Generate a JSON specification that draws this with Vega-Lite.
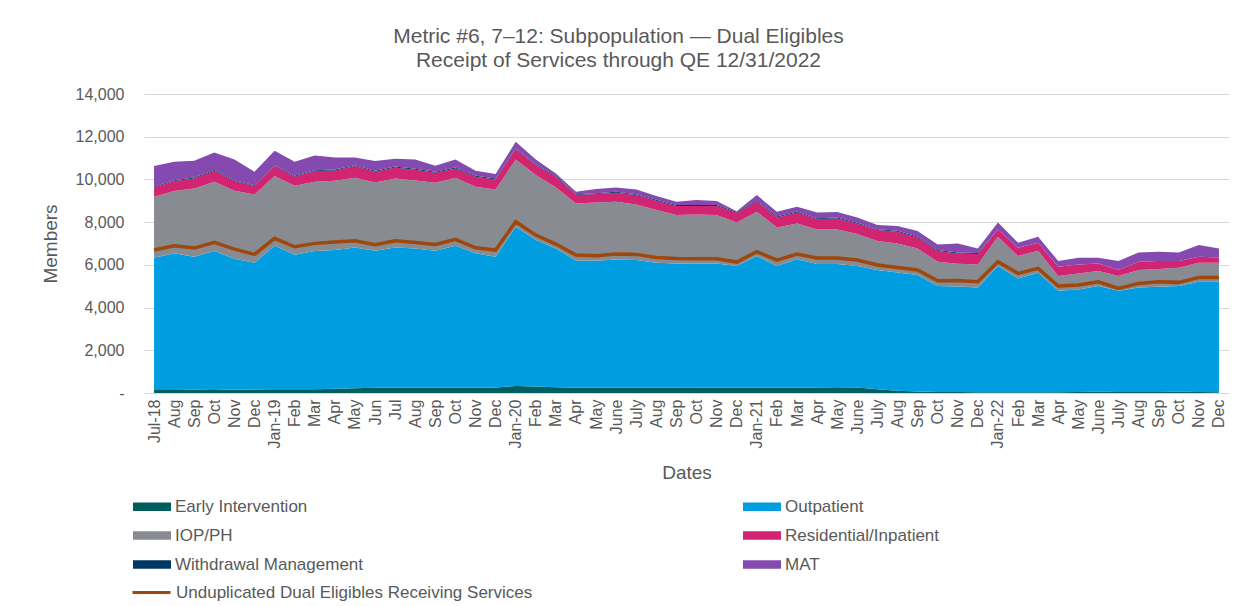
{
  "$schema": "https://vega.github.io/schema/vega-lite/v6.json",
  "width": 1085,
  "height": 299,
  "autosize": "none",
  "padding": {"left": 144, "top": 94, "right": 22, "bottom": 213},
  "background": "white",
  "title": {
    "text": ["Metric #6, 7–12: Subpopulation — Dual Eligibles", "Receipt of Services through QE 12/31/2022"],
    "anchor": "middle",
    "dx": -68,
    "offset": 15,
    "fontSize": 21,
    "lineHeight": 24,
    "font": "Liberation Sans",
    "fontWeight": "normal",
    "color": "#595959"
  },
  "config": {
    "view": {"stroke": null},
    "font": "Liberation Sans",
    "axis": {
      "labelFont": "Liberation Sans",
      "titleFont": "Liberation Sans",
      "labelColor": "#595959",
      "titleColor": "#595959",
      "labelFontSize": 16,
      "titleFontSize": 19,
      "titleFontWeight": "normal",
      "ticks": false
    },
    "legend": {
      "labelFont": "Liberation Sans",
      "labelFontSize": 17,
      "labelColor": "#595959",
      "labelLimit": 600,
      "padding": 0
    }
  },
  "datasets": {
    "seriesInfo": [
      {"series": "Early Intervention", "rank": 1},
      {"series": "Outpatient", "rank": 2},
      {"series": "IOP/PH", "rank": 3},
      {"series": "Residential/Inpatient", "rank": 4},
      {"series": "Withdrawal Management", "rank": 5},
      {"series": "MAT", "rank": 6}
    ],
    "areas": [
      {"date":"2018-07-15","series":"Early Intervention","members":180},{"date":"2018-07-15","series":"Outpatient","members":6154},{"date":"2018-07-15","series":"IOP/PH","members":2854},{"date":"2018-07-15","series":"Residential/Inpatient","members":437},{"date":"2018-07-15","series":"Withdrawal Management","members":45},{"date":"2018-07-15","series":"MAT","members":954},
      {"date":"2018-08-15","series":"Early Intervention","members":180},{"date":"2018-08-15","series":"Outpatient","members":6358},{"date":"2018-08-15","series":"IOP/PH","members":2916},{"date":"2018-08-15","series":"Residential/Inpatient","members":468},{"date":"2018-08-15","series":"Withdrawal Management","members":45},{"date":"2018-08-15","series":"MAT","members":859},
      {"date":"2018-09-15","series":"Early Intervention","members":160},{"date":"2018-09-15","series":"Outpatient","members":6221},{"date":"2018-09-15","series":"IOP/PH","members":3198},{"date":"2018-09-15","series":"Residential/Inpatient","members":469},{"date":"2018-09-15","series":"Withdrawal Management","members":45},{"date":"2018-09-15","series":"MAT","members":779},
      {"date":"2018-10-15","series":"Early Intervention","members":170},{"date":"2018-10-15","series":"Outpatient","members":6476},{"date":"2018-10-15","series":"IOP/PH","members":3244},{"date":"2018-10-15","series":"Residential/Inpatient","members":515},{"date":"2018-10-15","series":"Withdrawal Management","members":45},{"date":"2018-10-15","series":"MAT","members":815},
      {"date":"2018-11-15","series":"Early Intervention","members":150},{"date":"2018-11-15","series":"Outpatient","members":6137},{"date":"2018-11-15","series":"IOP/PH","members":3182},{"date":"2018-11-15","series":"Residential/Inpatient","members":453},{"date":"2018-11-15","series":"Withdrawal Management","members":45},{"date":"2018-11-15","series":"MAT","members":970},
      {"date":"2018-12-15","series":"Early Intervention","members":160},{"date":"2018-12-15","series":"Outpatient","members":5940},{"date":"2018-12-15","series":"IOP/PH","members":3199},{"date":"2018-12-15","series":"Residential/Inpatient","members":389},{"date":"2018-12-15","series":"Withdrawal Management","members":45},{"date":"2018-12-15","series":"MAT","members":624},
      {"date":"2019-01-15","series":"Early Intervention","members":170},{"date":"2019-01-15","series":"Outpatient","members":6725},{"date":"2019-01-15","series":"IOP/PH","members":3261},{"date":"2019-01-15","series":"Residential/Inpatient","members":468},{"date":"2019-01-15","series":"Withdrawal Management","members":45},{"date":"2019-01-15","series":"MAT","members":671},
      {"date":"2019-02-15","series":"Early Intervention","members":170},{"date":"2019-02-15","series":"Outpatient","members":6305},{"date":"2019-02-15","series":"IOP/PH","members":3228},{"date":"2019-02-15","series":"Residential/Inpatient","members":421},{"date":"2019-02-15","series":"Withdrawal Management","members":45},{"date":"2019-02-15","series":"MAT","members":657},
      {"date":"2019-03-15","series":"Early Intervention","members":180},{"date":"2019-03-15","series":"Outpatient","members":6466},{"date":"2019-03-15","series":"IOP/PH","members":3244},{"date":"2019-03-15","series":"Residential/Inpatient","members":500},{"date":"2019-03-15","series":"Withdrawal Management","members":45},{"date":"2019-03-15","series":"MAT","members":689},
      {"date":"2019-04-15","series":"Early Intervention","members":200},{"date":"2019-04-15","series":"Outpatient","members":6493},{"date":"2019-04-15","series":"IOP/PH","members":3244},{"date":"2019-04-15","series":"Residential/Inpatient","members":483},{"date":"2019-04-15","series":"Withdrawal Management","members":45},{"date":"2019-04-15","series":"MAT","members":566},
      {"date":"2019-05-15","series":"Early Intervention","members":220},{"date":"2019-05-15","series":"Outpatient","members":6597},{"date":"2019-05-15","series":"IOP/PH","members":3260},{"date":"2019-05-15","series":"Residential/Inpatient","members":547},{"date":"2019-05-15","series":"Withdrawal Management","members":45},{"date":"2019-05-15","series":"MAT","members":362},
      {"date":"2019-06-15","series":"Early Intervention","members":240},{"date":"2019-06-15","series":"Outpatient","members":6422},{"date":"2019-06-15","series":"IOP/PH","members":3197},{"date":"2019-06-15","series":"Residential/Inpatient","members":498},{"date":"2019-06-15","series":"Withdrawal Management","members":45},{"date":"2019-06-15","series":"MAT","members":456},
      {"date":"2019-07-15","series":"Early Intervention","members":250},{"date":"2019-07-15","series":"Outpatient","members":6567},{"date":"2019-07-15","series":"IOP/PH","members":3231},{"date":"2019-07-15","series":"Residential/Inpatient","members":515},{"date":"2019-07-15","series":"Withdrawal Management","members":45},{"date":"2019-07-15","series":"MAT","members":358},
      {"date":"2019-08-15","series":"Early Intervention","members":240},{"date":"2019-08-15","series":"Outpatient","members":6531},{"date":"2019-08-15","series":"IOP/PH","members":3179},{"date":"2019-08-15","series":"Residential/Inpatient","members":500},{"date":"2019-08-15","series":"Withdrawal Management","members":45},{"date":"2019-08-15","series":"MAT","members":442},
      {"date":"2019-09-15","series":"Early Intervention","members":240},{"date":"2019-09-15","series":"Outpatient","members":6422},{"date":"2019-09-15","series":"IOP/PH","members":3181},{"date":"2019-09-15","series":"Residential/Inpatient","members":468},{"date":"2019-09-15","series":"Withdrawal Management","members":45},{"date":"2019-09-15","series":"MAT","members":284},
      {"date":"2019-10-15","series":"Early Intervention","members":250},{"date":"2019-10-15","series":"Outpatient","members":6645},{"date":"2019-10-15","series":"IOP/PH","members":3182},{"date":"2019-10-15","series":"Residential/Inpatient","members":438},{"date":"2019-10-15","series":"Withdrawal Management","members":45},{"date":"2019-10-15","series":"MAT","members":377},
      {"date":"2019-11-15","series":"Early Intervention","members":250},{"date":"2019-11-15","series":"Outpatient","members":6288},{"date":"2019-11-15","series":"IOP/PH","members":3118},{"date":"2019-11-15","series":"Residential/Inpatient","members":468},{"date":"2019-11-15","series":"Withdrawal Management","members":45},{"date":"2019-11-15","series":"MAT","members":236},
      {"date":"2019-12-15","series":"Early Intervention","members":260},{"date":"2019-12-15","series":"Outpatient","members":6121},{"date":"2019-12-15","series":"IOP/PH","members":3151},{"date":"2019-12-15","series":"Residential/Inpatient","members":469},{"date":"2019-12-15","series":"Withdrawal Management","members":45},{"date":"2019-12-15","series":"MAT","members":204},
      {"date":"2020-01-15","series":"Early Intervention","members":330},{"date":"2020-01-15","series":"Outpatient","members":7455},{"date":"2020-01-15","series":"IOP/PH","members":3152},{"date":"2020-01-15","series":"Residential/Inpatient","members":482},{"date":"2020-01-15","series":"Withdrawal Management","members":45},{"date":"2020-01-15","series":"MAT","members":298},
      {"date":"2020-02-15","series":"Early Intervention","members":310},{"date":"2020-02-15","series":"Outpatient","members":6850},{"date":"2020-02-15","series":"IOP/PH","members":3043},{"date":"2020-02-15","series":"Residential/Inpatient","members":467},{"date":"2020-02-15","series":"Withdrawal Management","members":45},{"date":"2020-02-15","series":"MAT","members":222},
      {"date":"2020-03-15","series":"Early Intervention","members":270},{"date":"2020-03-15","series":"Outpatient","members":6501},{"date":"2020-03-15","series":"IOP/PH","members":2854},{"date":"2020-03-15","series":"Residential/Inpatient","members":499},{"date":"2020-03-15","series":"Withdrawal Management","members":45},{"date":"2020-03-15","series":"MAT","members":112},
      {"date":"2020-04-15","series":"Early Intervention","members":240},{"date":"2020-04-15","series":"Outpatient","members":5954},{"date":"2020-04-15","series":"IOP/PH","members":2683},{"date":"2020-04-15","series":"Residential/Inpatient","members":389},{"date":"2020-04-15","series":"Withdrawal Management","members":45},{"date":"2020-04-15","series":"MAT","members":111},
      {"date":"2020-05-15","series":"Early Intervention","members":240},{"date":"2020-05-15","series":"Outpatient","members":5954},{"date":"2020-05-15","series":"IOP/PH","members":2730},{"date":"2020-05-15","series":"Residential/Inpatient","members":389},{"date":"2020-05-15","series":"Withdrawal Management","members":45},{"date":"2020-05-15","series":"MAT","members":189},
      {"date":"2020-06-15","series":"Early Intervention","members":240},{"date":"2020-06-15","series":"Outpatient","members":6016},{"date":"2020-06-15","series":"IOP/PH","members":2698},{"date":"2020-06-15","series":"Residential/Inpatient","members":421},{"date":"2020-06-15","series":"Withdrawal Management","members":45},{"date":"2020-06-15","series":"MAT","members":205},
      {"date":"2020-07-15","series":"Early Intervention","members":250},{"date":"2020-07-15","series":"Outpatient","members":5975},{"date":"2020-07-15","series":"IOP/PH","members":2605},{"date":"2020-07-15","series":"Residential/Inpatient","members":436},{"date":"2020-07-15","series":"Withdrawal Management","members":45},{"date":"2020-07-15","series":"MAT","members":221},
      {"date":"2020-08-15","series":"Early Intervention","members":250},{"date":"2020-08-15","series":"Outpatient","members":5850},{"date":"2020-08-15","series":"IOP/PH","members":2464},{"date":"2020-08-15","series":"Residential/Inpatient","members":436},{"date":"2020-08-15","series":"Withdrawal Management","members":45},{"date":"2020-08-15","series":"MAT","members":175},
      {"date":"2020-09-15","series":"Early Intervention","members":260},{"date":"2020-09-15","series":"Outpatient","members":5809},{"date":"2020-09-15","series":"IOP/PH","members":2261},{"date":"2020-09-15","series":"Residential/Inpatient","members":422},{"date":"2020-09-15","series":"Withdrawal Management","members":45},{"date":"2020-09-15","series":"MAT","members":157},
      {"date":"2020-10-15","series":"Early Intervention","members":260},{"date":"2020-10-15","series":"Outpatient","members":5809},{"date":"2020-10-15","series":"IOP/PH","members":2292},{"date":"2020-10-15","series":"Residential/Inpatient","members":391},{"date":"2020-10-15","series":"Withdrawal Management","members":45},{"date":"2020-10-15","series":"MAT","members":235},
      {"date":"2020-11-15","series":"Early Intervention","members":250},{"date":"2020-11-15","series":"Outpatient","members":5819},{"date":"2020-11-15","series":"IOP/PH","members":2261},{"date":"2020-11-15","series":"Residential/Inpatient","members":422},{"date":"2020-11-15","series":"Withdrawal Management","members":45},{"date":"2020-11-15","series":"MAT","members":189},
      {"date":"2020-12-15","series":"Early Intervention","members":240},{"date":"2020-12-15","series":"Outpatient","members":5704},{"date":"2020-12-15","series":"IOP/PH","members":2042},{"date":"2020-12-15","series":"Residential/Inpatient","members":453},{"date":"2020-12-15","series":"Withdrawal Management","members":45},{"date":"2020-12-15","series":"MAT","members":30},
      {"date":"2021-01-15","series":"Early Intervention","members":250},{"date":"2021-01-15","series":"Outpatient","members":6162},{"date":"2021-01-15","series":"IOP/PH","members":2074},{"date":"2021-01-15","series":"Residential/Inpatient","members":468},{"date":"2021-01-15","series":"Withdrawal Management","members":45},{"date":"2021-01-15","series":"MAT","members":267},
      {"date":"2021-02-15","series":"Early Intervention","members":250},{"date":"2021-02-15","series":"Outpatient","members":5694},{"date":"2021-02-15","series":"IOP/PH","members":1809},{"date":"2021-02-15","series":"Residential/Inpatient","members":468},{"date":"2021-02-15","series":"Withdrawal Management","members":45},{"date":"2021-02-15","series":"MAT","members":220},
      {"date":"2021-03-15","series":"Early Intervention","members":250},{"date":"2021-03-15","series":"Outpatient","members":6007},{"date":"2021-03-15","series":"IOP/PH","members":1683},{"date":"2021-03-15","series":"Residential/Inpatient","members":515},{"date":"2021-03-15","series":"Withdrawal Management","members":45},{"date":"2021-03-15","series":"MAT","members":220},
      {"date":"2021-04-15","series":"Early Intervention","members":260},{"date":"2021-04-15","series":"Outpatient","members":5777},{"date":"2021-04-15","series":"IOP/PH","members":1622},{"date":"2021-04-15","series":"Residential/Inpatient","members":484},{"date":"2021-04-15","series":"Withdrawal Management","members":45},{"date":"2021-04-15","series":"MAT","members":267},
      {"date":"2021-05-15","series":"Early Intervention","members":270},{"date":"2021-05-15","series":"Outpatient","members":5767},{"date":"2021-05-15","series":"IOP/PH","members":1622},{"date":"2021-05-15","series":"Residential/Inpatient","members":515},{"date":"2021-05-15","series":"Withdrawal Management","members":45},{"date":"2021-05-15","series":"MAT","members":251},
      {"date":"2021-06-15","series":"Early Intervention","members":260},{"date":"2021-06-15","series":"Outpatient","members":5684},{"date":"2021-06-15","series":"IOP/PH","members":1496},{"date":"2021-06-15","series":"Residential/Inpatient","members":484},{"date":"2021-06-15","series":"Withdrawal Management","members":45},{"date":"2021-06-15","series":"MAT","members":252},
      {"date":"2021-07-15","series":"Early Intervention","members":170},{"date":"2021-07-15","series":"Outpatient","members":5586},{"date":"2021-07-15","series":"IOP/PH","members":1357},{"date":"2021-07-15","series":"Residential/Inpatient","members":515},{"date":"2021-07-15","series":"Withdrawal Management","members":45},{"date":"2021-07-15","series":"MAT","members":189},
      {"date":"2021-08-15","series":"Early Intervention","members":100},{"date":"2021-08-15","series":"Outpatient","members":5547},{"date":"2021-08-15","series":"IOP/PH","members":1358},{"date":"2021-08-15","series":"Residential/Inpatient","members":544},{"date":"2021-08-15","series":"Withdrawal Management","members":45},{"date":"2021-08-15","series":"MAT","members":221},
      {"date":"2021-09-15","series":"Early Intervention","members":70},{"date":"2021-09-15","series":"Outpatient","members":5452},{"date":"2021-09-15","series":"IOP/PH","members":1248},{"date":"2021-09-15","series":"Residential/Inpatient","members":515},{"date":"2021-09-15","series":"Withdrawal Management","members":45},{"date":"2021-09-15","series":"MAT","members":251},
      {"date":"2021-10-15","series":"Early Intervention","members":50},{"date":"2021-10-15","series":"Outpatient","members":4958},{"date":"2021-10-15","series":"IOP/PH","members":1137},{"date":"2021-10-15","series":"Residential/Inpatient","members":501},{"date":"2021-10-15","series":"Withdrawal Management","members":45},{"date":"2021-10-15","series":"MAT","members":267},
      {"date":"2021-11-15","series":"Early Intervention","members":45},{"date":"2021-11-15","series":"Outpatient","members":4945},{"date":"2021-11-15","series":"IOP/PH","members":1060},{"date":"2021-11-15","series":"Residential/Inpatient","members":480},{"date":"2021-11-15","series":"Withdrawal Management","members":45},{"date":"2021-11-15","series":"MAT","members":430},
      {"date":"2021-12-15","series":"Early Intervention","members":40},{"date":"2021-12-15","series":"Outpatient","members":4905},{"date":"2021-12-15","series":"IOP/PH","members":1077},{"date":"2021-12-15","series":"Residential/Inpatient","members":483},{"date":"2021-12-15","series":"Withdrawal Management","members":45},{"date":"2021-12-15","series":"MAT","members":220},
      {"date":"2022-01-15","series":"Early Intervention","members":40},{"date":"2022-01-15","series":"Outpatient","members":5904},{"date":"2022-01-15","series":"IOP/PH","members":1373},{"date":"2022-01-15","series":"Residential/Inpatient","members":342},{"date":"2022-01-15","series":"Withdrawal Management","members":0},{"date":"2022-01-15","series":"MAT","members":327},
      {"date":"2022-02-15","series":"Early Intervention","members":40},{"date":"2022-02-15","series":"Outpatient","members":5326},{"date":"2022-02-15","series":"IOP/PH","members":1046},{"date":"2022-02-15","series":"Residential/Inpatient","members":390},{"date":"2022-02-15","series":"Withdrawal Management","members":0},{"date":"2022-02-15","series":"MAT","members":234},
      {"date":"2022-03-15","series":"Early Intervention","members":40},{"date":"2022-03-15","series":"Outpatient","members":5592},{"date":"2022-03-15","series":"IOP/PH","members":1030},{"date":"2022-03-15","series":"Residential/Inpatient","members":374},{"date":"2022-03-15","series":"Withdrawal Management","members":0},{"date":"2022-03-15","series":"MAT","members":281},
      {"date":"2022-04-15","series":"Early Intervention","members":40},{"date":"2022-04-15","series":"Outpatient","members":4748},{"date":"2022-04-15","series":"IOP/PH","members":688},{"date":"2022-04-15","series":"Residential/Inpatient","members":436},{"date":"2022-04-15","series":"Withdrawal Management","members":0},{"date":"2022-04-15","series":"MAT","members":266},
      {"date":"2022-05-15","series":"Early Intervention","members":50},{"date":"2022-05-15","series":"Outpatient","members":4801},{"date":"2022-05-15","series":"IOP/PH","members":749},{"date":"2022-05-15","series":"Residential/Inpatient","members":422},{"date":"2022-05-15","series":"Withdrawal Management","members":0},{"date":"2022-05-15","series":"MAT","members":312},
      {"date":"2022-06-15","series":"Early Intervention","members":60},{"date":"2022-06-15","series":"Outpatient","members":4948},{"date":"2022-06-15","series":"IOP/PH","members":702},{"date":"2022-06-15","series":"Residential/Inpatient","members":359},{"date":"2022-06-15","series":"Withdrawal Management","members":0},{"date":"2022-06-15","series":"MAT","members":265},
      {"date":"2022-07-15","series":"Early Intervention","members":50},{"date":"2022-07-15","series":"Outpatient","members":4738},{"date":"2022-07-15","series":"IOP/PH","members":688},{"date":"2022-07-15","series":"Residential/Inpatient","members":280},{"date":"2022-07-15","series":"Withdrawal Management","members":0},{"date":"2022-07-15","series":"MAT","members":422},
      {"date":"2022-08-15","series":"Early Intervention","members":50},{"date":"2022-08-15","series":"Outpatient","members":4895},{"date":"2022-08-15","series":"IOP/PH","members":811},{"date":"2022-08-15","series":"Residential/Inpatient","members":390},{"date":"2022-08-15","series":"Withdrawal Management","members":0},{"date":"2022-08-15","series":"MAT","members":437},
      {"date":"2022-09-15","series":"Early Intervention","members":50},{"date":"2022-09-15","series":"Outpatient","members":4925},{"date":"2022-09-15","series":"IOP/PH","members":828},{"date":"2022-09-15","series":"Residential/Inpatient","members":375},{"date":"2022-09-15","series":"Withdrawal Management","members":0},{"date":"2022-09-15","series":"MAT","members":437},
      {"date":"2022-10-15","series":"Early Intervention","members":60},{"date":"2022-10-15","series":"Outpatient","members":4948},{"date":"2022-10-15","series":"IOP/PH","members":857},{"date":"2022-10-15","series":"Residential/Inpatient","members":313},{"date":"2022-10-15","series":"Withdrawal Management","members":0},{"date":"2022-10-15","series":"MAT","members":405},
      {"date":"2022-11-15","series":"Early Intervention","members":50},{"date":"2022-11-15","series":"Outpatient","members":5160},{"date":"2022-11-15","series":"IOP/PH","members":890},{"date":"2022-11-15","series":"Residential/Inpatient","members":281},{"date":"2022-11-15","series":"Withdrawal Management","members":0},{"date":"2022-11-15","series":"MAT","members":546},
      {"date":"2022-12-15","series":"Early Intervention","members":40},{"date":"2022-12-15","series":"Outpatient","members":5170},{"date":"2022-12-15","series":"IOP/PH","members":890},{"date":"2022-12-15","series":"Residential/Inpatient","members":250},{"date":"2022-12-15","series":"Withdrawal Management","members":0},{"date":"2022-12-15","series":"MAT","members":421}
    ],
    "line": [
      {"date":"2018-07-15","series":"Unduplicated Dual Eligibles Receiving Services","members":6693},
      {"date":"2018-08-15","series":"Unduplicated Dual Eligibles Receiving Services","members":6895},
      {"date":"2018-09-15","series":"Unduplicated Dual Eligibles Receiving Services","members":6786},
      {"date":"2018-10-15","series":"Unduplicated Dual Eligibles Receiving Services","members":7052},
      {"date":"2018-11-15","series":"Unduplicated Dual Eligibles Receiving Services","members":6739},
      {"date":"2018-12-15","series":"Unduplicated Dual Eligibles Receiving Services","members":6491},
      {"date":"2019-01-15","series":"Unduplicated Dual Eligibles Receiving Services","members":7240},
      {"date":"2019-02-15","series":"Unduplicated Dual Eligibles Receiving Services","members":6848},
      {"date":"2019-03-15","series":"Unduplicated Dual Eligibles Receiving Services","members":7006},
      {"date":"2019-04-15","series":"Unduplicated Dual Eligibles Receiving Services","members":7067},
      {"date":"2019-05-15","series":"Unduplicated Dual Eligibles Receiving Services","members":7128},
      {"date":"2019-06-15","series":"Unduplicated Dual Eligibles Receiving Services","members":6941},
      {"date":"2019-07-15","series":"Unduplicated Dual Eligibles Receiving Services","members":7128},
      {"date":"2019-08-15","series":"Unduplicated Dual Eligibles Receiving Services","members":7050},
      {"date":"2019-09-15","series":"Unduplicated Dual Eligibles Receiving Services","members":6958},
      {"date":"2019-10-15","series":"Unduplicated Dual Eligibles Receiving Services","members":7193},
      {"date":"2019-11-15","series":"Unduplicated Dual Eligibles Receiving Services","members":6801},
      {"date":"2019-12-15","series":"Unduplicated Dual Eligibles Receiving Services","members":6693},
      {"date":"2020-01-15","series":"Unduplicated Dual Eligibles Receiving Services","members":8019},
      {"date":"2020-02-15","series":"Unduplicated Dual Eligibles Receiving Services","members":7394},
      {"date":"2020-03-15","series":"Unduplicated Dual Eligibles Receiving Services","members":6973},
      {"date":"2020-04-15","series":"Unduplicated Dual Eligibles Receiving Services","members":6458},
      {"date":"2020-05-15","series":"Unduplicated Dual Eligibles Receiving Services","members":6428},
      {"date":"2020-06-15","series":"Unduplicated Dual Eligibles Receiving Services","members":6505},
      {"date":"2020-07-15","series":"Unduplicated Dual Eligibles Receiving Services","members":6490},
      {"date":"2020-08-15","series":"Unduplicated Dual Eligibles Receiving Services","members":6350},
      {"date":"2020-09-15","series":"Unduplicated Dual Eligibles Receiving Services","members":6303},
      {"date":"2020-10-15","series":"Unduplicated Dual Eligibles Receiving Services","members":6287},
      {"date":"2020-11-15","series":"Unduplicated Dual Eligibles Receiving Services","members":6287},
      {"date":"2020-12-15","series":"Unduplicated Dual Eligibles Receiving Services","members":6131},
      {"date":"2021-01-15","series":"Unduplicated Dual Eligibles Receiving Services","members":6615},
      {"date":"2021-02-15","series":"Unduplicated Dual Eligibles Receiving Services","members":6224},
      {"date":"2021-03-15","series":"Unduplicated Dual Eligibles Receiving Services","members":6505},
      {"date":"2021-04-15","series":"Unduplicated Dual Eligibles Receiving Services","members":6318},
      {"date":"2021-05-15","series":"Unduplicated Dual Eligibles Receiving Services","members":6318},
      {"date":"2021-06-15","series":"Unduplicated Dual Eligibles Receiving Services","members":6224},
      {"date":"2021-07-15","series":"Unduplicated Dual Eligibles Receiving Services","members":5990},
      {"date":"2021-08-15","series":"Unduplicated Dual Eligibles Receiving Services","members":5881},
      {"date":"2021-09-15","series":"Unduplicated Dual Eligibles Receiving Services","members":5756},
      {"date":"2021-10-15","series":"Unduplicated Dual Eligibles Receiving Services","members":5256},
      {"date":"2021-11-15","series":"Unduplicated Dual Eligibles Receiving Services","members":5270},
      {"date":"2021-12-15","series":"Unduplicated Dual Eligibles Receiving Services","members":5210},
      {"date":"2022-01-15","series":"Unduplicated Dual Eligibles Receiving Services","members":6146},
      {"date":"2022-02-15","series":"Unduplicated Dual Eligibles Receiving Services","members":5600},
      {"date":"2022-03-15","series":"Unduplicated Dual Eligibles Receiving Services","members":5834},
      {"date":"2022-04-15","series":"Unduplicated Dual Eligibles Receiving Services","members":5008},
      {"date":"2022-05-15","series":"Unduplicated Dual Eligibles Receiving Services","members":5054},
      {"date":"2022-06-15","series":"Unduplicated Dual Eligibles Receiving Services","members":5210},
      {"date":"2022-07-15","series":"Unduplicated Dual Eligibles Receiving Services","members":4898},
      {"date":"2022-08-15","series":"Unduplicated Dual Eligibles Receiving Services","members":5132},
      {"date":"2022-09-15","series":"Unduplicated Dual Eligibles Receiving Services","members":5210},
      {"date":"2022-10-15","series":"Unduplicated Dual Eligibles Receiving Services","members":5180},
      {"date":"2022-11-15","series":"Unduplicated Dual Eligibles Receiving Services","members":5413},
      {"date":"2022-12-15","series":"Unduplicated Dual Eligibles Receiving Services","members":5413}
    ]
  },
  "layer": [
    {
      "data": {"name": "areas"},
      "transform": [
        {"lookup": "series", "from": {"data": {"name": "seriesInfo"}, "key": "series", "fields": ["rank"]}}
      ],
      "mark": {"type": "area", "opacity": 1},
      "encoding": {
        "x": {
          "field": "date",
          "timeUnit": "utcyearmonth",
          "type": "ordinal",
          "scale": {"type": "point", "padding": 0.5},
          "axis": {
            "title": "Dates",
            "titlePadding": 16,
            "labelAngle": 270,
            "labelAlign": "right",
            "labelBaseline": "middle",
            "labelPadding": 6,
            "domainColor": "#d9d9d9",
            "domainWidth": 1,
            "grid": false,
            "labelExpr": "(utcmonth(datum.value) === 0 || (utcyear(datum.value) === 2018 && utcmonth(datum.value) === 6)) ? utcFormat(datum.value, '%b-%y') : ((utcyear(datum.value) >= 2020 && utcmonth(datum.value) === 5) ? 'June' : ((utcyear(datum.value) >= 2020 && utcmonth(datum.value) === 6) ? 'July' : utcFormat(datum.value, '%b')))"
          }
        },
        "y": {
          "field": "members",
          "type": "quantitative",
          "stack": "zero",
          "scale": {"domain": [0, 14000], "nice": false},
          "axis": {
            "title": "Members",
            "titlePadding": 15,
            "values": [0, 2000, 4000, 6000, 8000, 10000, 12000, 14000],
            "labelExpr": "datum.value === 0 ? '-' : format(datum.value, ',')",
            "labelPadding": 20,
            "domain": false,
            "grid": true,
            "gridColor": "#d9d9d9",
            "gridWidth": 1
          }
        },
        "order": {"field": "rank", "type": "quantitative", "sort": "ascending"},
        "color": {
          "field": "series",
          "type": "nominal",
          "sort": ["Early Intervention", "Outpatient", "IOP/PH", "Residential/Inpatient", "Withdrawal Management", "MAT"],
          "scale": {
            "domain": ["Early Intervention", "Outpatient", "IOP/PH", "Residential/Inpatient", "Withdrawal Management", "MAT"],
            "range": ["#005F5E", "#009EE0", "#888B91", "#D12473", "#003865", "#844AAF"]
          },
          "legend": {
            "title": null,
            "orient": "none",
            "legendX": -11,
            "legendY": 405,
            "columns": 2,
            "direction": "horizontal",
            "gridAlign": "all",
            "columnPadding": 379,
            "rowPadding": 11,
            "clipHeight": 15,
            "symbolType": "M-1,-0.22H1V0.22H-1Z",
            "symbolSize": 1444,
            "symbolStrokeWidth": 0,
            "symbolOpacity": 1,
            "labelOffset": 4
          }
        }
      }
    },
    {
      "data": {"name": "line"},
      "mark": {"type": "line", "strokeWidth": 3.5},
      "encoding": {
        "x": {"field": "date", "timeUnit": "utcyearmonth", "type": "ordinal"},
        "y": {"field": "members", "type": "quantitative"},
        "stroke": {
          "field": "series",
          "type": "nominal",
          "scale": {"range": ["#9E480E"]},
          "legend": {
            "title": null,
            "orient": "none",
            "legendX": -13,
            "legendY": 491,
            "clipHeight": 15,
            "symbolType": "stroke",
            "symbolSize": 1444,
            "symbolStrokeWidth": 3,
            "labelOffset": 4
          }
        }
      }
    }
  ],
  "resolve": {"scale": {"color": "independent"}}
}
